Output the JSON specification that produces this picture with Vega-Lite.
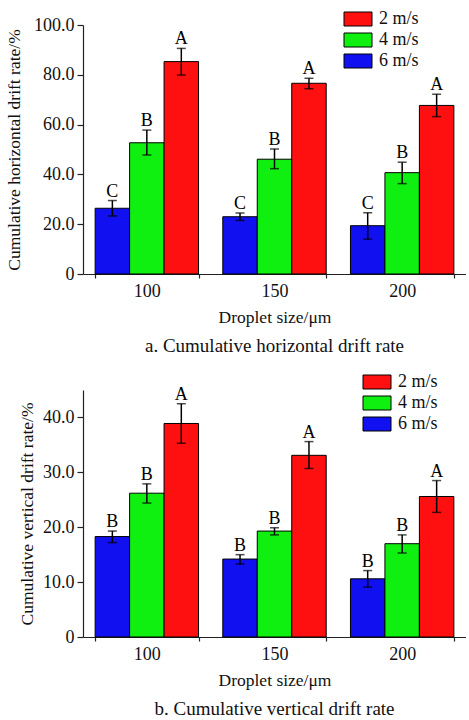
{
  "$schema": "https://vega.github.io/schema/vega-lite/v6.json",
  "padding": {"left": 5, "top": 10, "right": 0, "bottom": 0},
  "spacing": 17,
  "background": "white",
  "datasets": {
    "h": [
      {"size": "100", "speed": "6 m/s", "value": 26.4, "lo": 23.3, "hi": 29.5, "letter": "C"},
      {"size": "100", "speed": "4 m/s", "value": 52.7, "lo": 47.8, "hi": 57.8, "letter": "B"},
      {"size": "100", "speed": "2 m/s", "value": 85.3, "lo": 79.9, "hi": 90.6, "letter": "A"},
      {"size": "150", "speed": "6 m/s", "value": 23.0, "lo": 21.5, "hi": 24.5, "letter": "C"},
      {"size": "150", "speed": "4 m/s", "value": 46.1, "lo": 42.3, "hi": 50.2, "letter": "B"},
      {"size": "150", "speed": "2 m/s", "value": 76.6, "lo": 74.4, "hi": 78.6, "letter": "A"},
      {"size": "200", "speed": "6 m/s", "value": 19.4, "lo": 14.0, "hi": 24.6, "letter": "C"},
      {"size": "200", "speed": "4 m/s", "value": 40.7, "lo": 36.3, "hi": 44.9, "letter": "B"},
      {"size": "200", "speed": "2 m/s", "value": 67.7, "lo": 63.2, "hi": 72.2, "letter": "A"}
    ],
    "v": [
      {"size": "100", "speed": "6 m/s", "value": 18.3, "lo": 17.2, "hi": 19.3, "letter": "B"},
      {"size": "100", "speed": "4 m/s", "value": 26.2, "lo": 24.4, "hi": 27.9, "letter": "B"},
      {"size": "100", "speed": "2 m/s", "value": 38.9, "lo": 35.3, "hi": 42.5, "letter": "A"},
      {"size": "150", "speed": "6 m/s", "value": 14.2, "lo": 13.3, "hi": 15.0, "letter": "B"},
      {"size": "150", "speed": "4 m/s", "value": 19.3, "lo": 18.6, "hi": 19.9, "letter": "B"},
      {"size": "150", "speed": "2 m/s", "value": 33.1, "lo": 30.7, "hi": 35.6, "letter": "A"},
      {"size": "200", "speed": "6 m/s", "value": 10.6, "lo": 9.1, "hi": 12.1, "letter": "B"},
      {"size": "200", "speed": "4 m/s", "value": 17.0, "lo": 15.3, "hi": 18.6, "letter": "B"},
      {"size": "200", "speed": "2 m/s", "value": 25.6, "lo": 22.7, "hi": 28.5, "letter": "A"}
    ]
  },
  "vconcat": [
    {
      "width": 383,
      "height": 249,
      "data": {"name": "h"},
      "title": {"text": "a. Cumulative horizontal drift rate", "orient": "bottom", "offset": 11},
      "encoding": {
        "x": {"field": "size", "type": "nominal", "scale": {"paddingInner": 0.19, "paddingOuter": 0.095},
              "axis": {"title": "Droplet size/μm", "labelAngle": 0, "tickBand": "extent", "tickSize": 4, "labelPadding": 4, "titlePadding": 8}},
        "xOffset": {"field": "speed", "type": "nominal", "scale": {"domain": ["6 m/s", "4 m/s", "2 m/s"], "paddingInner": 0, "paddingOuter": 0}}
      },
      "layer": [
        {
          "mark": {"type": "bar", "stroke": "black", "strokeWidth": 1},
          "encoding": {
            "y": {"field": "value", "type": "quantitative", "scale": {"domain": [0, 100], "nice": false},
                  "axis": {"title": "Cumulative horizontal drift rate/%", "values": [0, 10, 20, 30, 40, 50, 60, 70, 80, 90, 100],
                           "labelExpr": "datum.value % 20 === 0 ? (datum.value === 0 ? '0' : format(datum.value, '.1f')) : ''",
                           "tickSize": {"condition": {"test": "datum.value % 20 === 0", "value": 6}, "value": 3},
                           "labelPadding": 3, "titlePadding": 10}},
            "color": {"field": "speed", "type": "nominal",
                      "scale": {"domain": ["2 m/s", "4 m/s", "6 m/s"], "range": ["#ff1010", "#10f010", "#1010f0"]},
                      "legend": {"title": null, "orient": "none", "legendX": 266, "legendY": -15,
                                 "labelFont": "Liberation Serif", "labelFontSize": 18}}
          }
        },
        {
          "mark": {"type": "rule", "color": "black", "strokeWidth": 1.5},
          "encoding": {"y": {"field": "lo", "type": "quantitative"}, "y2": {"field": "hi"}}
        },
        {
          "mark": {"type": "tick", "orient": "horizontal", "size": 9, "thickness": 1.5, "color": "black"},
          "encoding": {"y": {"field": "hi", "type": "quantitative"}}
        },
        {
          "mark": {"type": "tick", "orient": "horizontal", "size": 9, "thickness": 1.5, "color": "black"},
          "encoding": {"y": {"field": "lo", "type": "quantitative"}}
        },
        {
          "mark": {"type": "text", "baseline": "alphabetic", "dy": -4, "fontSize": 18, "font": "Liberation Serif", "color": "black"},
          "encoding": {"y": {"field": "hi", "type": "quantitative"}, "text": {"field": "letter"}}
        }
      ]
    },
    {
      "width": 383,
      "height": 247,
      "data": {"name": "v"},
      "title": {"text": "b. Cumulative vertical drift rate", "orient": "bottom", "offset": 11},
      "encoding": {
        "x": {"field": "size", "type": "nominal", "scale": {"paddingInner": 0.19, "paddingOuter": 0.095},
              "axis": {"title": "Droplet size/μm", "labelAngle": 0, "tickBand": "extent", "tickSize": 4, "labelPadding": 4, "titlePadding": 8}},
        "xOffset": {"field": "speed", "type": "nominal", "scale": {"domain": ["6 m/s", "4 m/s", "2 m/s"], "paddingInner": 0, "paddingOuter": 0}}
      },
      "layer": [
        {
          "mark": {"type": "bar", "stroke": "black", "strokeWidth": 1},
          "encoding": {
            "y": {"field": "value", "type": "quantitative", "scale": {"domain": [0, 45], "nice": false},
                  "axis": {"title": "Cumulative vertical drift rate/%", "values": [0, 5, 10, 15, 20, 25, 30, 35, 40],
                           "labelExpr": "datum.value % 10 === 0 ? (datum.value === 0 ? '0' : format(datum.value, '.1f')) : ''",
                           "tickSize": {"condition": {"test": "datum.value % 10 === 0", "value": 6}, "value": 3},
                           "labelPadding": 3, "titlePadding": 6}},
            "color": {"field": "speed", "type": "nominal",
                      "scale": {"domain": ["2 m/s", "4 m/s", "6 m/s"], "range": ["#ff1010", "#10f010", "#1010f0"]},
                      "legend": {"title": null, "orient": "none", "legendX": 285, "legendY": -17,
                                 "labelFont": "Liberation Serif", "labelFontSize": 18}}
          }
        },
        {
          "mark": {"type": "rule", "color": "black", "strokeWidth": 1.5},
          "encoding": {"y": {"field": "lo", "type": "quantitative"}, "y2": {"field": "hi"}}
        },
        {
          "mark": {"type": "tick", "orient": "horizontal", "size": 9, "thickness": 1.5, "color": "black"},
          "encoding": {"y": {"field": "hi", "type": "quantitative"}}
        },
        {
          "mark": {"type": "tick", "orient": "horizontal", "size": 9, "thickness": 1.5, "color": "black"},
          "encoding": {"y": {"field": "lo", "type": "quantitative"}}
        },
        {
          "mark": {"type": "text", "baseline": "alphabetic", "dy": -4, "fontSize": 18, "font": "Liberation Serif", "color": "black"},
          "encoding": {"y": {"field": "hi", "type": "quantitative"}, "text": {"field": "letter"}}
        }
      ]
    }
  ],
  "resolve": {"scale": {"color": "independent"}, "legend": {"color": "independent"}},
  "config": {
    "font": "Liberation Serif",
    "view": {"stroke": null},
    "axis": {"grid": false, "domainColor": "#222222", "domainWidth": 1.2, "tickColor": "#222222", "tickWidth": 1.2,
             "labelFont": "Liberation Serif", "labelFontSize": 18, "labelColor": "#111111",
             "titleFont": "Liberation Serif", "titleFontSize": 17.5, "titleFontWeight": "normal", "titleColor": "#111111"},
    "legend": {"symbolType": "M-2,-1H2V1H-2Z", "symbolSize": 196, "symbolStrokeColor": "black", "symbolStrokeWidth": 1,
               "symbolOpacity": 1, "labelFont": "Liberation Serif", "labelFontSize": 18, "labelColor": "#111111",
               "labelOffset": 12, "rowPadding": 3, "padding": 0},
    "title": {"font": "Liberation Serif", "fontSize": 19, "fontWeight": "normal", "color": "#111111"}
  }
}
